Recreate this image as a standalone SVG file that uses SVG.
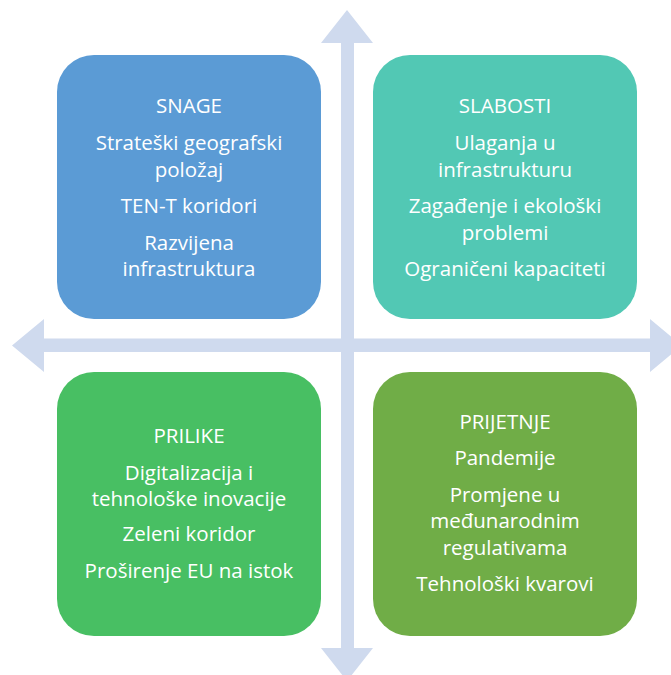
<svg xmlns="http://www.w3.org/2000/svg" width="671" height="675" viewBox="0 0 671 675">
<style>
.box{stroke:none}
.t{font-family:"Open Sans","Liberation Sans",sans-serif;font-size:20.5px;fill:#ffffff;text-anchor:middle}
.ax{fill:#CFDAEE}
</style>
<rect width="671" height="675" fill="#ffffff"/>
<g id="connectors">
<polygon class="ax" points="347,10 373,43 354,43 354,648 373,648 347,681 321,648 341,648 341,43 321,43"/>
<polygon class="ax" points="12,345.5 44,319 44,338.5 650,338.5 650,319 682,345.5 650,372 650,352 44,352 44,372"/>
</g>
<g id="snage">
<rect class="box" x="57" y="55" width="264" height="264" rx="37" fill="#5B9BD5"/>
<text class="t" x="189" y="113">SNAGE</text>
<text class="t" x="189" y="150">Strateški geografski</text>
<text class="t" x="189" y="176.5">položaj</text>
<text class="t" x="189" y="213">TEN-T koridori</text>
<text class="t" x="189" y="249.5">Razvijena</text>
<text class="t" x="189" y="276">infrastruktura</text>
</g>
<g id="slabosti">
<rect class="box" x="373" y="55" width="264" height="264" rx="37" fill="#52C8B4"/>
<text class="t" x="505" y="113">SLABOSTI</text>
<text class="t" x="505" y="150">Ulaganja u</text>
<text class="t" x="505" y="176.5">infrastrukturu</text>
<text class="t" x="505" y="213">Zagađenje i ekološki</text>
<text class="t" x="505" y="239.5">problemi</text>
<text class="t" x="505" y="276">Ograničeni kapaciteti</text>
</g>
<g id="prilike">
<rect class="box" x="57" y="372" width="264" height="264" rx="37" fill="#48BF63"/>
<text class="t" x="189" y="443">PRILIKE</text>
<text class="t" x="189" y="479.5">Digitalizacija i</text>
<text class="t" x="189" y="506">tehnološke inovacije</text>
<text class="t" x="189" y="541">Zeleni koridor</text>
<text class="t" x="189" y="577.5">Proširenje EU na istok</text>
</g>
<g id="prijetnje">
<rect class="box" x="373" y="372" width="264" height="264" rx="37" fill="#70AD47"/>
<text class="t" x="505" y="428.5">PRIJETNJE</text>
<text class="t" x="505" y="465">Pandemije</text>
<text class="t" x="505" y="501.5">Promjene u</text>
<text class="t" x="505" y="528">međunarodnim</text>
<text class="t" x="505" y="555">regulativama</text>
<text class="t" x="505" y="591">Tehnološki kvarovi</text>
</g>
</svg>
